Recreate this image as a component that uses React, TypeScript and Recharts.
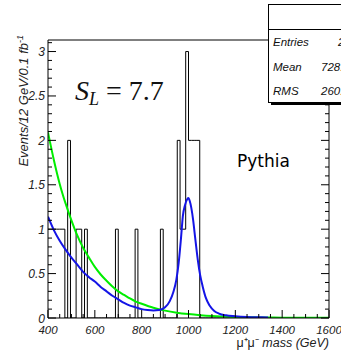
import { ComposedChart, Line, XAxis, YAxis } from "recharts";

const W = 341;
const H = 351;
const SANS = "'Liberation Sans', Arial, sans-serif";
const SERIF = "'Liberation Serif', 'Times New Roman', serif";

// histogram: low edge of non-empty 12 GeV bins and their counts
const binLows = [400, 412, 424, 436, 448, 460, 484, 520, 532, 556, 688, 772, 880, 952, 964, 976, 988, 1000, 1012, 1024, 1036];
const binCounts = [1, 1, 1, 1, 1, 1, 2, 1, 1, 1, 1, 1, 1, 2, 1, 1, 3, 2, 2, 2, 2];

// background-only fit (green)
const greenMass = [400, 425, 450, 475, 500, 525, 550, 575, 600, 625, 650, 675, 700, 725, 750, 775, 800, 850, 900, 950, 1000, 1050, 1100, 1150, 1200, 1300, 1400, 1500, 1600];
const greenVal = [2.09, 1.78, 1.51, 1.29, 1.1, 0.93, 0.79, 0.68, 0.575, 0.49, 0.42, 0.355, 0.3, 0.26, 0.22, 0.185, 0.16, 0.115, 0.083, 0.06, 0.044, 0.032, 0.023, 0.017, 0.012, 0.007, 0.004, 0.003, 0.002];

// signal + background fit (blue)
const blueMass = [400, 425, 450, 475, 500, 525, 550, 575, 600, 625, 650, 675, 700, 725, 750, 775, 800, 825, 850, 875, 900, 920, 935, 948, 958, 968, 976, 985, 995, 1000, 1005, 1012, 1020, 1026, 1033, 1040, 1050, 1061, 1075, 1090, 1110, 1130, 1160, 1200, 1250, 1300, 1340];
const blueVal = [1.14, 0.99, 0.87, 0.77, 0.68, 0.6, 0.52, 0.46, 0.41, 0.35, 0.3, 0.25, 0.21, 0.17, 0.14, 0.12, 0.1, 0.09, 0.085, 0.09, 0.12, 0.19, 0.29, 0.43, 0.62, 0.9, 1.15, 1.27, 1.34, 1.35, 1.32, 1.24, 1.1, 0.96, 0.8, 0.65, 0.48, 0.35, 0.22, 0.14, 0.08, 0.05, 0.03, 0.02, 0.012, 0.008, 0.006];

const xTicks = [400, 450, 500, 550, 600, 650, 700, 750, 800, 850, 900, 950, 1000, 1050, 1100, 1150, 1200, 1250, 1300, 1350, 1400, 1450, 1500, 1550, 1600];
const yTicks = [0, 0.1, 0.2, 0.3, 0.4, 0.5, 0.6, 0.7, 0.8, 0.9, 1, 1.1, 1.2, 1.3, 1.4, 1.5, 1.6, 1.7, 1.8, 1.9, 2, 2.1, 2.2, 2.3, 2.4, 2.5, 2.6, 2.7, 2.8, 2.9, 3, 3.1];

// stats box
const statLabels = ["Entries", "Mean", "RMS"];
const statValues = ["29", "728.3", "260.1"];

const histData: { m: number; n: number }[] = [];
for (let i = 0; i < 100; i++) {
  const m = 400 + i * 12;
  const k = binLows.indexOf(m);
  histData.push({ m, n: k >= 0 ? binCounts[k] : 0 });
}
histData.push({ m: 1600, n: 0 });

const greenData = greenMass.map((m, i) => ({ m, v: greenVal[i] }));
const blueData = blueMass.map((m, i) => ({ m, v: blueVal[i] }));

const isMajorY = (v: number) => Math.abs(v * 2 - Math.round(v * 2)) < 1e-6;

function BottomTick(p: any) {
  const { x, y, payload } = p;
  const v = payload.value;
  const major = v % 200 === 0;
  return (
    <g>
      <line x1={x} x2={x} y1={y} y2={y - (major ? 8 : 4)} stroke="#000" />
      {major && (
        <text x={x} y={y + 15.5} textAnchor="middle" fontFamily={SANS} fontStyle="italic" fontSize={11.5} fill="#222">
          {v}
        </text>
      )}
    </g>
  );
}

function TopTick(p: any) {
  const { x, y, payload } = p;
  const major = payload.value % 200 === 0;
  return <line x1={x} x2={x} y1={y} y2={y + (major ? 8 : 4)} stroke="#000" />;
}

function LeftTick(p: any) {
  const { x, y, payload } = p;
  const v = payload.value;
  const major = isMajorY(v);
  return (
    <g>
      <line x1={x} x2={x + (major ? 8 : 4)} y1={y} y2={y} stroke="#000" />
      {major && (
        <text x={x - 3} y={y + 4.5} textAnchor="end" fontFamily={SANS} fontStyle="italic" fontSize={12} fill="#222">
          {Number(v.toFixed(1))}
        </text>
      )}
    </g>
  );
}

function RightTick(p: any) {
  const { x, y, payload } = p;
  const major = isMajorY(payload.value);
  return <line x1={x} x2={x - (major ? 8 : 4)} y1={y} y2={y} stroke="#000" />;
}

export default function App() {
  return (
    <div style={{ position: "absolute", left: 0, top: 0, width: W, height: H, background: "#fff", overflow: "hidden" }}>
      <ComposedChart width={W} height={H} margin={{ top: 0, right: 0, bottom: 0, left: 0 }}>
        <XAxis
          xAxisId="b"
          dataKey="m"
          type="number"
          domain={[400, 1600]}
          allowDataOverflow
          ticks={xTicks}
          interval={0}
          height={33}
          tickSize={0}
          tickMargin={0}
          tickLine={false}
          axisLine={{ stroke: "#000" }}
          tick={BottomTick}
        />
        <XAxis
          xAxisId="t"
          orientation="top"
          type="number"
          domain={[400, 1600]}
          allowDataOverflow
          ticks={xTicks}
          interval={0}
          height={40}
          tickSize={0}
          tickMargin={0}
          tickLine={false}
          axisLine={{ stroke: "#000" }}
          tick={TopTick}
        />
        <YAxis
          yAxisId="l"
          type="number"
          domain={[0, 3.13]}
          allowDataOverflow
          ticks={yTicks}
          interval={0}
          width={48}
          tickSize={0}
          tickMargin={0}
          tickLine={false}
          axisLine={{ stroke: "#000" }}
          tick={LeftTick}
        />
        <YAxis
          yAxisId="r"
          orientation="right"
          type="number"
          domain={[0, 3.13]}
          allowDataOverflow
          ticks={yTicks}
          interval={0}
          width={12}
          tickSize={0}
          tickMargin={0}
          tickLine={false}
          axisLine={{ stroke: "#000" }}
          tick={RightTick}
        />
        <Line
          xAxisId="b"
          yAxisId="l"
          data={histData}
          dataKey="n"
          type="stepAfter"
          stroke="#000"
          strokeWidth={1}
          dot={false}
          activeDot={false}
          isAnimationActive={false}
        />
        <Line
          xAxisId="b"
          yAxisId="l"
          data={greenData}
          dataKey="v"
          type="monotone"
          stroke="#00ee00"
          strokeWidth={2}
          dot={false}
          activeDot={false}
          isAnimationActive={false}
        />
        <Line
          xAxisId="b"
          yAxisId="l"
          data={blueData}
          dataKey="v"
          type="monotone"
          stroke="#1414e6"
          strokeWidth={2}
          dot={false}
          activeDot={false}
          isAnimationActive={false}
        />
      </ComposedChart>
      <svg width={W} height={H} style={{ position: "absolute", left: 0, top: 0, pointerEvents: "none" }}>
        <text transform="translate(28,35) rotate(-90)" textAnchor="end" fontFamily={SANS} fontStyle="italic" fontSize={13} fill="#222">
          Events/12 GeV/0.1 fb<tspan dy={-5} fontSize={9}>-1</tspan>
        </text>
        <text x={329} y={347} textAnchor="end" fontFamily={SANS} fontSize={12.5} fill="#222">
          <tspan>μ⁺μ⁻ </tspan>
          <tspan fontStyle="italic">mass (GeV)</tspan>
        </text>
        <text x={75} y={100} fontFamily={SERIF} fontSize={28} fill="#111">
          <tspan fontStyle="italic">S</tspan>
          <tspan fontStyle="italic" fontSize={18} dy={5}>L</tspan>
          <tspan dy={-5}> = 7.7</tspan>
        </text>
        <text x={237} y={167} fontFamily="'DejaVu Sans', sans-serif" fontSize={17} fill="#000">
          Pythia
        </text>
        <rect x={271} y={102.5} width={80} height={2.5} fill="#000" />
        <rect x={268.5} y={4.5} width={90} height={98} fill="#fff" stroke="#000" />
        <line x1={268.5} x2={341} y1={29.5} y2={29.5} stroke="#000" />
        <g fontFamily={SANS} fontStyle="italic" fontSize={11.5} fill="#111">
          {statLabels.map((s, i) => (
            <text key={s} x={273} y={46 + i * 24.5}>
              {s}
            </text>
          ))}
          {statValues.map((s, i) => (
            <text key={s} x={i === 0 ? 338 : 321} y={46 + i * 24.5}>
              {s}
            </text>
          ))}
        </g>
      </svg>
    </div>
  );
}
